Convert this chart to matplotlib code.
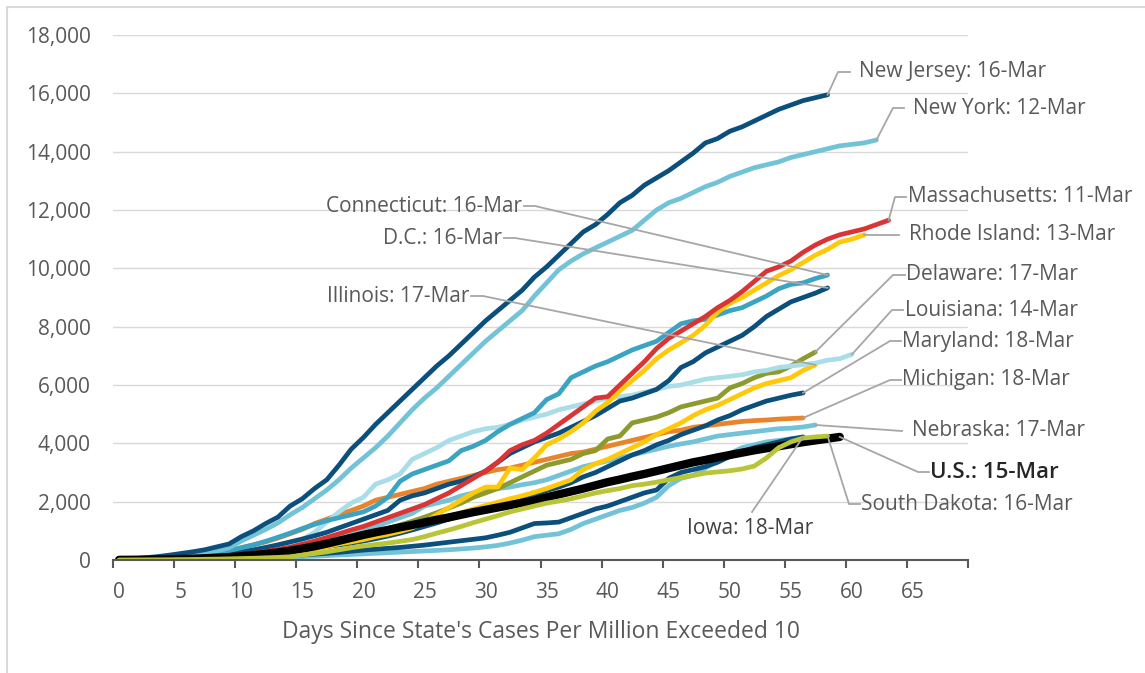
import matplotlib.pyplot as plt
from matplotlib.lines import Line2D
import numpy as np

plt.rcParams['font.family'] = ['Open Sans', 'DejaVu Sans']

# cases per million, by day since the state passed 10 per million
new_jersey = [20, 40, 70, 110, 160, 220, 280, 350, 450, 550,
              800, 1000, 1250, 1470, 1850, 2100, 2450, 2750, 3250, 3800,
              4200, 4650, 5050, 5450, 5850, 6250, 6650, 7000, 7400, 7800,
              8200, 8550, 8900, 9250, 9700, 10050, 10450, 10850, 11250, 11500,
              11850, 12250, 12500, 12850, 13100, 13350, 13650, 13950, 14300, 14450,
              14700, 14850, 15050, 15250, 15450, 15600, 15750, 15850, 15950]
new_york = [20, 30, 45, 65, 95, 130, 170, 230, 310, 420,
            650, 850, 1050, 1270, 1550, 1800, 2100, 2400, 2750, 3150,
            3500, 3850, 4250, 4700, 5150, 5550, 5900, 6300, 6700, 7100,
            7500, 7850, 8200, 8550, 9050, 9500, 9950, 10250, 10500, 10700,
            10900, 11100, 11300, 11650, 12000, 12250, 12400, 12600, 12800, 12950,
            13150, 13300, 13450, 13550, 13650, 13800, 13900, 14000, 14100, 14200,
            14250, 14300, 14400]
massachusetts = [10, 15, 20, 30, 40, 50, 70, 90, 110, 140,
                 180, 230, 290, 360, 440, 540, 650, 770, 900, 1030,
                 1150, 1300, 1450, 1600, 1750, 1900, 2100, 2300, 2550, 2800,
                 3050, 3350, 3750, 3950, 4100, 4350, 4650, 4950, 5250, 5550,
                 5600, 6000, 6400, 6800, 7250, 7600, 7850, 8100, 8350, 8650,
                 8900, 9200, 9550, 9900, 10050, 10250, 10550, 10800, 11000, 11150,
                 11250, 11350, 11500, 11650]
rhode_island = [5, 8, 10, 15, 20, 25, 35, 45, 60, 75,
                95, 120, 150, 190, 240, 300, 370, 450, 550, 620,
                700, 800, 880, 980, 1100, 1300, 1550, 1800, 2050, 2300,
                2500, 2500, 3150, 3100, 3500, 3950, 4150, 4400, 4700, 5100,
                5400, 5800, 6150, 6500, 6900, 7200, 7450, 7700, 8050, 8500,
                8800, 9000, 9250, 9500, 9750, 9950, 10200, 10450, 10650, 10900,
                11000, 11150]
connecticut = [10, 20, 30, 50, 70, 100, 140, 190, 250, 320,
               420, 520, 640, 780, 920, 1080, 1220, 1350, 1450, 1550,
               1650, 1850, 2150, 2700, 2950, 3100, 3250, 3400, 3750, 3900,
               4100, 4400, 4650, 4850, 5050, 5500, 5700, 6250, 6450, 6650,
               6800, 7000, 7200, 7350, 7500, 7800, 8100, 8200, 8250, 8400,
               8550, 8650, 8850, 9050, 9300, 9450, 9500, 9650, 9770]
dc = [10, 15, 25, 35, 50, 70, 100, 130, 170, 220,
      280, 350, 430, 520, 620, 720, 830, 950, 1100, 1250,
      1400, 1550, 1700, 2050, 2200, 2300, 2450, 2600, 2700, 2850,
      3050, 3350, 3650, 3850, 4050, 4200, 4350, 4550, 4750, 4950,
      5200, 5450, 5550, 5700, 5850, 6150, 6600, 6800, 7100, 7300,
      7500, 7700, 8000, 8350, 8600, 8850, 9000, 9150, 9330]
delaware = [5, 10, 15, 20, 30, 40, 50, 70, 90, 120,
            150, 190, 240, 290, 350, 420, 500, 580, 670, 760,
            860, 970, 1080, 1200, 1330, 1470, 1620, 1780, 1950, 2150,
            2300, 2450, 2650, 2850, 3050, 3250, 3350, 3450, 3650, 3750,
            4150, 4250, 4700, 4800, 4900, 5050, 5250, 5350, 5450, 5550,
            5900, 6050, 6250, 6400, 6450, 6650, 6900, 7130]
louisiana = [5, 8, 12, 18, 25, 35, 50, 70, 90, 120,
             160, 210, 280, 370, 500, 700, 950, 1300, 1650, 1950,
             2150, 2600, 2750, 2950, 3450, 3650, 3850, 4100, 4250, 4400,
             4500, 4550, 4650, 4800, 4900, 5000, 5150, 5250, 5350, 5450,
             5550, 5600, 5650, 5750, 5850, 5950, 6000, 6100, 6200, 6250,
             6300, 6350, 6450, 6500, 6600, 6650, 6700, 6750, 6850, 6900,
             7050]
illinois = [5, 8, 12, 18, 25, 35, 45, 60, 80, 100,
            130, 160, 200, 250, 300, 360, 430, 500, 580, 660,
            750, 850, 950, 1050, 1150, 1250, 1380, 1500, 1620, 1750,
            1870, 1980, 2100, 2200, 2320, 2450, 2600, 2750, 3100, 3300,
            3450, 3650, 3850, 4050, 4300, 4500, 4700, 4950, 5150, 5300,
            5500, 5700, 5900, 6050, 6150, 6250, 6500, 6690]
maryland = [5, 8, 12, 18, 25, 35, 45, 60, 80, 100,
            130, 160, 200, 240, 290, 340, 400, 460, 520, 580,
            650, 730, 820, 920, 1030, 1150, 1270, 1400, 1530, 1650,
            1780, 1900, 2000, 2100, 2230, 2380, 2500, 2650, 2850, 3000,
            3200, 3400, 3600, 3750, 3950, 4100, 4300, 4450, 4600, 4800,
            4950, 5150, 5300, 5450, 5550, 5650, 5730]
michigan = [10, 20, 35, 50, 70, 100, 140, 190, 260, 330,
            420, 520, 620, 750, 900, 1050, 1250, 1400, 1550, 1700,
            1850, 2050, 2150, 2250, 2350, 2450, 2600, 2700, 2800, 2900,
            3000, 3100, 3150, 3250, 3350, 3450, 3550, 3650, 3700, 3800,
            3900, 4000, 4100, 4200, 4300, 4400, 4450, 4550, 4600, 4650,
            4700, 4750, 4780, 4800, 4830, 4850, 4870]
nebraska = [5, 8, 12, 18, 25, 35, 50, 70, 90, 120,
            150, 190, 240, 300, 370, 450, 540, 640, 750, 870,
            1000, 1150, 1300, 1450, 1600, 1850, 1950, 2050, 2200, 2300,
            2400, 2450, 2500, 2580, 2650, 2750, 2900, 3050, 3200, 3300,
            3400, 3500, 3600, 3700, 3800, 3900, 3980, 4050, 4150, 4250,
            4300, 4350, 4400, 4450, 4500, 4520, 4560, 4630]
us = [5, 8, 12, 18, 25, 35, 45, 60, 80, 100,
      130, 170, 210, 260, 320, 390, 470, 560, 660, 760,
      860, 950, 1030, 1120, 1200, 1290, 1380, 1460, 1550, 1640,
      1720, 1800, 1880, 1960, 2040, 2150, 2250, 2350, 2450, 2560,
      2670, 2760, 2860, 2950, 3050, 3150, 3250, 3350, 3430, 3520,
      3600, 3680, 3760, 3830, 3900, 3970, 4040, 4100, 4160, 4220]
south_dakota = [2, 3, 5, 7, 10, 14, 18, 25, 30, 40,
                50, 60, 75, 90, 110, 170, 220, 280, 350, 420,
                480, 530, 580, 640, 700, 800, 920, 1030, 1150, 1280,
                1400, 1520, 1650, 1750, 1850, 1950, 2020, 2100, 2200, 2300,
                2380, 2450, 2550, 2600, 2670, 2750, 2830, 2900, 2980, 3020,
                3060, 3120, 3220, 3500, 3850, 4050, 4180, 4220, 4250]
iowa = [2, 3, 5, 8, 12, 18, 25, 35, 45, 60,
        75, 90, 110, 130, 150, 175, 200, 230, 260, 300,
        340, 370, 400, 430, 470, 510, 560, 610, 660, 710,
        760, 850, 950, 1100, 1250, 1270, 1300, 1450, 1600, 1750,
        1850, 2000, 2150, 2300, 2400, 2800, 3000, 3100, 3200, 3350,
        3550, 3700, 3850, 3950, 4050, 4150, 4220]
other_state = [2, 3, 5, 8, 10, 15, 20, 25, 30, 40,
               50, 60, 70, 85, 100, 115, 130, 150, 170, 190,
               210, 230, 250, 270, 290, 310, 330, 350, 380, 410,
               450, 500, 580, 680, 800, 850, 900, 1050, 1250, 1400,
               1550, 1700, 1800, 1950, 2150, 2550, 2800, 2900, 3150, 3400,
               3650, 3850, 3950, 4050, 4100, 4150, 4180]

navy = '#0B4F7C'
sky = '#72C3D7'
teal = '#3BA4C2'
pale = '#A9DDE8'
yellow = '#FFC90A'

# (values, colour, width, label)
series = [
    (other_state, sky, 3.4, None),
    (iowa, navy, 3.4, 'Iowa: 18-Mar'),
    (nebraska, sky, 3.4, 'Nebraska: 17-Mar'),
    (michigan, '#E8842C', 3.4, 'Michigan: 18-Mar'),
    (maryland, navy, 3.4, 'Maryland: 18-Mar'),
    (illinois, yellow, 3.4, 'Illinois: 17-Mar'),
    (delaware, '#8D9A2E', 3.4, 'Delaware: 17-Mar'),
    (louisiana, pale, 3.4, 'Louisiana: 14-Mar'),
    (dc, navy, 3.4, 'D.C.: 16-Mar'),
    (connecticut, teal, 3.4, 'Connecticut: 16-Mar'),
    (rhode_island, yellow, 3.4, 'Rhode Island: 13-Mar'),
    (massachusetts, '#D93436', 3.4, 'Massachusetts: 11-Mar'),
    (new_york, sky, 3.4, 'New York: 12-Mar'),
    (new_jersey, navy, 3.4, 'New Jersey: 16-Mar'),
    (us, 'black', 6, 'U.S.: 15-Mar'),
    (south_dakota, '#B9C437', 3.4, 'South Dakota: 16-Mar'),
]

# label placement in screen pixels: elbow point, end of short stub, text anchor
label_pos = {
    'New Jersey: 16-Mar': ((838, 72), (850, 72), (859, 'left')),
    'New York: 12-Mar': ((893, 108), (904, 108), (913, 'left')),
    'Massachusetts: 11-Mar': ((895, 197), (906, 197), (908, 'left')),
    'Rhode Island: 13-Mar': ((870, 235), (899, 235), (909, 'left')),
    'Delaware: 17-Mar': ((893, 275), (905, 275), (906, 'left')),
    'Louisiana: 14-Mar': ((892, 310), (903, 310), (905, 'left')),
    'Maryland: 18-Mar': ((890, 341), (901, 341), (902, 'left')),
    'Michigan: 18-Mar': ((890, 380), (901, 380), (902, 'left')),
    'Nebraska: 17-Mar': ((902, 431), (902, 431), (912, 'left')),
    'U.S.: 15-Mar': ((918, 472), (929, 472), (930, 'left')),
    'South Dakota: 16-Mar': ((849, 504), (860, 504), (861, 'left')),
    'Iowa: 18-Mar': ((752, 512), (752, 512), (750, 'center')),
    'Connecticut: 16-Mar': ((535, 206), (524, 206), (522, 'right')),
    'D.C.: 16-Mar': ((515, 238), (504, 238), (502, 'right')),
    'Illinois: 17-Mar': ((483, 296), (471, 296), (469, 'right')),
}

W, H = 1145, 673
fig = plt.figure(figsize=(W / 100, H / 100), dpi=100)
ax = fig.add_axes([113 / W, (H - 560) / H, 855 / W, 525 / H])

for values, color, lw, label in series:
    ax.plot(np.arange(len(values)), values, color=color, lw=lw,
            solid_capstyle='round', solid_joinstyle='round')

ax.set_xlim(-0.5, 69.5)
ax.set_ylim(0, 18000)
ax.set_yticks(range(0, 18001, 2000))
ax.set_yticklabels([f'{v:,}' for v in range(0, 18001, 2000)])
ax.set_xticks(range(0, 66, 5))
ax.set_xticks(np.arange(-0.5, 70, 5), minor=True)
ax.grid(axis='y', color='#D9D9D9', lw=1)
ax.set_axisbelow(True)
for s in ['top', 'right', 'left']:
    ax.spines[s].set_visible(False)
ax.spines['bottom'].set_color('#595959')
ax.spines['bottom'].set_linewidth(1.5)
ax.tick_params(axis='y', length=0, pad=16, labelsize=15, labelcolor='#595959')
ax.tick_params(axis='x', which='major', length=0, pad=16, labelsize=15, labelcolor='#595959')
ax.tick_params(axis='x', which='minor', length=6, width=1.5, color='#595959')
ax.set_xlabel("Days Since State's Cases Per Million Exceeded 10",
              fontsize=16.5, color='#595959', labelpad=12)

# leader lines and labels, drawn in pixel space
fig.canvas.draw()
for values, color, lw, label in series:
    if label is None:
        continue
    ex, ey = ax.transData.transform((len(values) - 1, values[-1]))
    (bx, by), (sx, sy), (tx, ha) = label_pos[label]
    by, sy = H - by, H - sy
    fig.add_artist(Line2D([ex, bx, sx], [ey, by, sy], transform=None,
                          color='#A6A6A6', lw=1.3, zorder=1))
    bold = label.startswith('U.S.')
    if label.startswith('Iowa'):
        fig.text(tx, by - 16, label, transform=None, ha='center', va='center',
                 fontsize=15, color='#404040')
    else:
        fig.text(tx, sy, label, transform=None, ha=ha, va='center',
                 fontsize=16 if bold else 15,
                 color='#262626' if bold else '#595959',
                 fontweight='semibold' if bold else 'normal')

# chart area border (left and top edges show)
fig.add_artist(Line2D([7, 7, W], [0, H - 7, H - 7], transform=None,
                      color='#D9D9D9', lw=1.5))

plt.savefig('out.png', dpi=100)
